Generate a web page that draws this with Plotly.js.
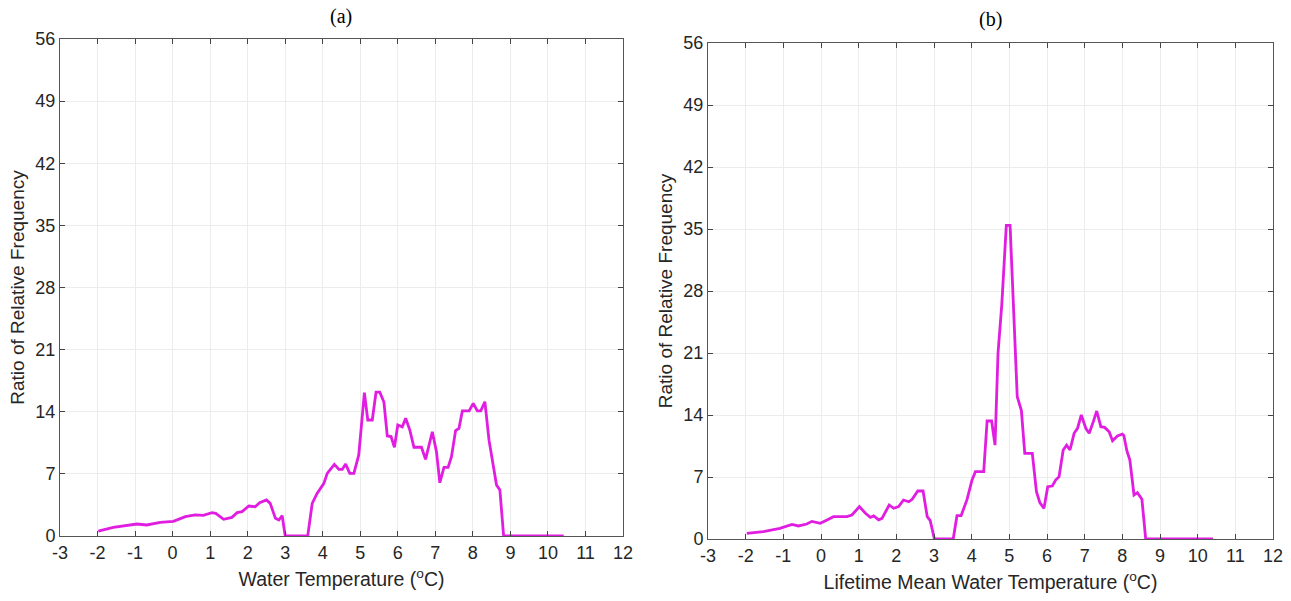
<!DOCTYPE html>
<html>
<head>
<meta charset="utf-8">
<script src="https://cdn.plot.ly/plotly-3.0.1.min.js"></script>
<style>html,body{margin:0;padding:0;background:#fff;}#chart{width:1291px;height:601px;}</style>
</head>
<body>
<div id="chart"></div>
<script>
// Panel (a): Water Temperature
const tempA = [-1.98,-1.58,-0.95,-0.69,-0.33,0.02,0.34,0.6,0.82,1.05,1.15,1.36,1.58,1.72,1.85,2.03,2.2,2.32,2.5,2.6,2.74,2.83,2.92,3.0,3.6,3.72,3.85,4.03,4.12,4.31,4.43,4.52,4.61,4.72,4.83,4.96,5.11,5.2,5.32,5.42,5.52,5.63,5.72,5.82,5.91,6.0,6.12,6.21,6.32,6.43,6.63,6.74,6.92,7.03,7.12,7.23,7.34,7.43,7.54,7.63,7.72,7.9,8.01,8.12,8.21,8.32,8.43,8.54,8.63,8.72,8.82,10.42];
const ratioA = [0.56,0.98,1.35,1.24,1.54,1.65,2.18,2.37,2.33,2.63,2.55,1.88,2.1,2.63,2.74,3.38,3.3,3.75,4.06,3.68,1.99,1.8,2.29,0,0,3.68,4.8,5.93,7.06,8.07,7.5,7.5,8.1,7.06,7.06,9.13,16.15,13.07,13.07,16.2,16.2,15.1,11.27,11.2,10.0,12.5,12.3,13.26,11.94,10.0,10.0,8.64,11.75,9.5,6.0,7.74,7.74,8.94,11.87,12.13,14.1,14.1,14.95,14.1,14.1,15.13,10.8,7.8,5.75,5.18,0,0];

// Panel (b): Lifetime Mean Water Temperature
const tempB = [-1.97,-1.53,-1.09,-0.77,-0.6,-0.38,-0.24,-0.02,0.16,0.33,0.69,0.82,1.02,1.18,1.31,1.4,1.53,1.62,1.81,1.93,2.06,2.19,2.33,2.42,2.57,2.71,2.82,2.9,3.01,3.51,3.61,3.72,3.88,4.01,4.1,4.32,4.41,4.53,4.62,4.7,4.8,4.92,5.02,5.12,5.21,5.32,5.41,5.61,5.72,5.81,5.92,6.02,6.14,6.23,6.32,6.43,6.52,6.61,6.72,6.81,6.91,7.03,7.12,7.23,7.32,7.43,7.53,7.65,7.74,7.87,8.0,8.04,8.12,8.2,8.31,8.4,8.52,8.62,10.41];
const ratioB = [0.64,0.83,1.2,1.65,1.47,1.69,1.99,1.77,2.15,2.52,2.52,2.71,3.65,2.9,2.45,2.6,2.15,2.33,3.84,3.47,3.65,4.4,4.2,4.48,5.42,5.42,2.52,2.07,0,0,2.63,2.63,4.5,6.66,7.6,7.6,13.32,13.32,10.6,21.0,26.5,35.4,35.4,25.5,16.07,14.5,9.67,9.67,5.34,4.1,3.46,5.9,5.98,6.66,7.03,10.05,10.6,10.05,11.93,12.5,14.0,12.5,11.93,13.25,14.45,12.68,12.6,12.1,11.1,11.63,11.85,11.7,9.97,8.92,4.97,5.23,4.48,0,0];

const xTicks = [-3,-2,-1,0,1,2,3,4,5,6,7,8,9,10,11,12];
const yTicks = [0,7,14,21,28,35,42,49,56];

const lineColor = '#E01DE0';
const textColor = '#262626';

const traces = [
  {x: tempA, y: ratioA, type: 'scatter', mode: 'lines', line: {color: lineColor, width: 2.8}, xaxis: 'x', yaxis: 'y', hoverinfo: 'x+y'},
  {x: tempB, y: ratioB, type: 'scatter', mode: 'lines', line: {color: lineColor, width: 2.8}, xaxis: 'x2', yaxis: 'y2', hoverinfo: 'x+y'}
];

function xAxis(domain, anchor, title) {
  return {
    domain: domain, anchor: anchor, range: [-3, 12],
    tickvals: xTicks, ticktext: xTicks.map(String),
    ticks: 'inside', ticklen: 5, tickcolor: '#444', mirror: 'ticks',
    showline: true, linecolor: '#555', linewidth: 1,
    showgrid: true, gridcolor: '#ececec', gridwidth: 1, zeroline: false,
    tickfont: {family: 'Liberation Sans, Arial, sans-serif', size: 18, color: textColor},
    title: {text: title, font: {family: 'Liberation Sans, Arial, sans-serif', size: 19.5, color: textColor}, standoff: 10}
  };
}
function yAxis(domain, anchor) {
  return {
    domain: domain, anchor: anchor, range: [0, 56],
    tickvals: yTicks, ticktext: yTicks.map(String),
    ticks: 'inside', ticklen: 5, tickcolor: '#444', mirror: 'ticks',
    showline: true, linecolor: '#555', linewidth: 1,
    showgrid: true, gridcolor: '#ececec', gridwidth: 1, zeroline: false,
    tickfont: {family: 'Liberation Sans, Arial, sans-serif', size: 18, color: textColor},
    title: {text: 'Ratio of Relative Frequency', font: {family: 'Liberation Sans, Arial, sans-serif', size: 19, color: textColor}, standoff: 5}
  };
}

const layout = {
  width: 1291, height: 601,
  margin: {l: 0, r: 0, t: 0, b: 0},
  paper_bgcolor: '#fff', plot_bgcolor: '#fff',
  showlegend: false,
  xaxis: xAxis([60/1291, 623/1291], 'y', 'Water Temperature (<sup>o</sup>C)'),
  yaxis: yAxis([65/601, 562/601], 'x'),
  xaxis2: xAxis([708/1291, 1273/1291], 'y2', 'Lifetime Mean Water Temperature (<sup>o</sup>C)'),
  yaxis2: yAxis([62/601, 558/601], 'x2'),
  annotations: [
    {text: '(a)', xref: 'paper', yref: 'paper', x: 341/1291, y: 1 - 17/601, xanchor: 'center', yanchor: 'middle', showarrow: false, font: {family: 'Liberation Serif, Times New Roman, serif', size: 20, color: '#000'}},
    {text: '(b)', xref: 'paper', yref: 'paper', x: 990/1291, y: 1 - 20/601, xanchor: 'center', yanchor: 'middle', showarrow: false, font: {family: 'Liberation Serif, Times New Roman, serif', size: 20, color: '#000'}}
  ]
};

Plotly.newPlot('chart', traces, layout, {displayModeBar: false, staticPlot: true});
</script>
</body>
</html>
